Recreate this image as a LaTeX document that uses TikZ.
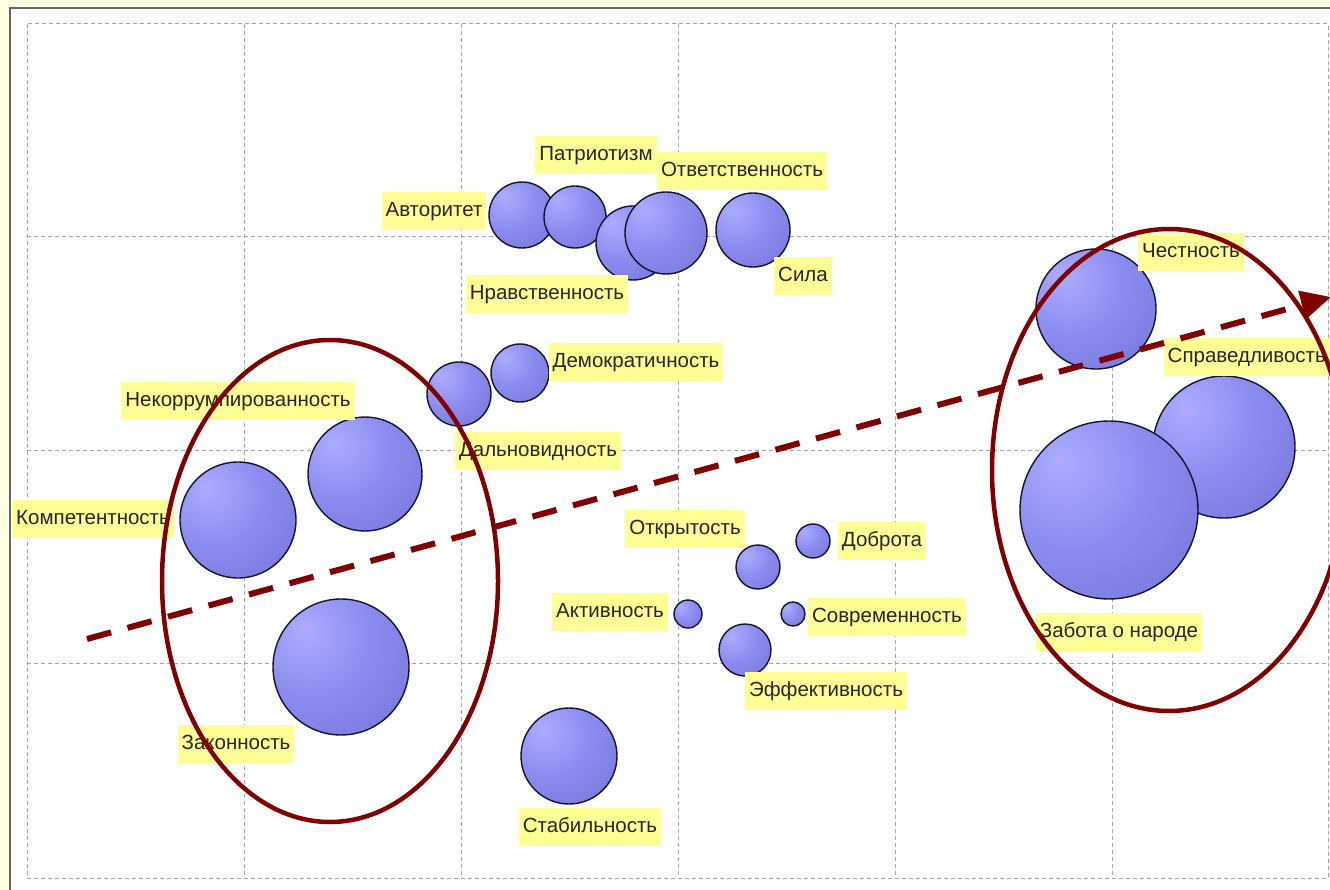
\documentclass[tikz,border=0pt]{standalone}
\usepackage{fontspec}
\setmainfont{Liberation Sans}
\usetikzlibrary{arrows.meta}
\definecolor{bgyellow}{RGB}{255,255,226}
\definecolor{lblyellow}{RGB}{255,255,150}
\definecolor{darkred}{RGB}{128,0,0}
\definecolor{gridgray}{RGB}{165,165,165}
\definecolor{bubhi}{RGB}{172,172,255}
\definecolor{bubmid}{RGB}{140,140,240}
\definecolor{bubedge}{RGB}{98,98,200}
\definecolor{bubline}{RGB}{20,20,45}
\pgfdeclareradialshading{bubshade}{\pgfpoint{-14bp}{14bp}}{color(0bp)=(bubhi); color(22bp)=(bubmid); color(64bp)=(bubedge); color(100bp)=(bubedge)}
\begin{document}
\begin{tikzpicture}[x=1pt,y=-1pt,
  bub/.style={circle, draw=bubline, line width=1.4pt, shading=bubshade, inner sep=0pt},
  lbl/.style={fill=lblyellow, font=\fontsize{20.5}{20.5}\selectfont, text=black!85, inner xsep=4pt, minimum height=38pt, text height=15pt, text depth=4pt},
  gridline/.style={draw=gridgray, line width=1pt, dash pattern=on 4pt off 3pt},
  ring/.style={draw=darkred, line width=4.5pt},
  trend/.style={draw=darkred, line width=6pt, dash pattern=on 25pt off 17pt, -{Triangle[length=30pt,width=28pt]}}]
\useasboundingbox (0,0) rectangle (1330,890);
\clip (0,0) rectangle (1330,890);
\fill[bgyellow] (0,0) rectangle (1330,890);
\fill[white] (10,8) rectangle (1345,900);
\draw[line width=2pt, draw=black!60] (10,900) -- (10,8) -- (1345,8);
% grid
\draw[gridline] (27,24) rectangle (1328,878);
\foreach \gx in {244,461,678,895,1112} \draw[gridline] (\gx,24) -- (\gx,878);
\foreach \gy in {237,450,663} \draw[gridline] (27,\gy) -- (1328,\gy);
% bubbles
\node[bub, minimum size=66pt] (avt) at (522,215) {};
\node[bub, minimum size=62pt] (pat) at (575,217) {};
\node[bub, minimum size=74pt] (nrav) at (633,243) {};
\node[bub, minimum size=82pt] (otv) at (666,233) {};
\node[bub, minimum size=74pt] (sila) at (753,230) {};
\node[bub, minimum size=58pt] (dem) at (520,373) {};
\node[bub, minimum size=64pt] (dal) at (459,394) {};
\node[bub, minimum size=114pt] (nek) at (365,474) {};
\node[bub, minimum size=116pt] (komp) at (238,520) {};
\node[bub, minimum size=136pt] (zak) at (341,667) {};
\node[bub, minimum size=96pt] (stab) at (569,756) {};
\node[bub, minimum size=44pt] (otkr) at (758,567) {};
\node[bub, minimum size=34pt] (dobr) at (813,541) {};
\node[bub, minimum size=28pt] (akt) at (688,614) {};
\node[bub, minimum size=24pt] (sovr) at (793,614) {};
\node[bub, minimum size=52pt] (eff) at (745,650) {};
\node[bub, minimum size=120pt] (chest) at (1096,309) {};
\node[bub, minimum size=142pt] (sprav) at (1224,447) {};
\node[bub, minimum size=178pt] (zab) at (1109,510) {};
% labels
\node[lbl] (l-avt) at (434,211) {Авторитет};
\node[lbl] (l-pat) at (596,155) {Патриотизм};
\node[lbl] (l-otv) at (742,171) {Ответственность};
\node[lbl] (l-nrav) at (547,294) {Нравственность};
\node[lbl] (l-sila) at (803,276) {Сила};
\node[lbl] (l-dem) at (636,362) {Демократичность};
\node[lbl] (l-nek) at (238,401) {Некоррумпированность};
\node[lbl] (l-dal) at (538,451) {Дальновидность};
\node[lbl] (l-komp) at (93,519) {Компетентность};
\node[lbl] (l-zak) at (236,744) {Законность};
\node[lbl] (l-stab) at (590,827) {Стабильность};
\node[lbl] (l-otkr) at (685,529) {Открытость};
\node[lbl] (l-dobr) at (882,541) {Доброта};
\node[lbl] (l-akt) at (610,612) {Активность};
\node[lbl] (l-sovr) at (887,617) {Современность};
\node[lbl] (l-eff) at (826,691) {Эффективность};
\node[lbl] (l-chest) at (1191,252) {Честность};
\node[lbl, anchor=east] (l-sprav) at (1330,357) {Справедливость};
\node[lbl] (l-zab) at (1119,632) {Забота о народе};
% groups
\draw[ring] (330,581) ellipse [x radius=168, y radius=241];
\draw[ring] (1169,470) ellipse [x radius=177, y radius=241];
% trend arrow
\coordinate (t0) at (87,639);
\coordinate (t1) at (1331,297);
\draw[trend] (t0) -- (t1);
\end{tikzpicture}
\end{document}
